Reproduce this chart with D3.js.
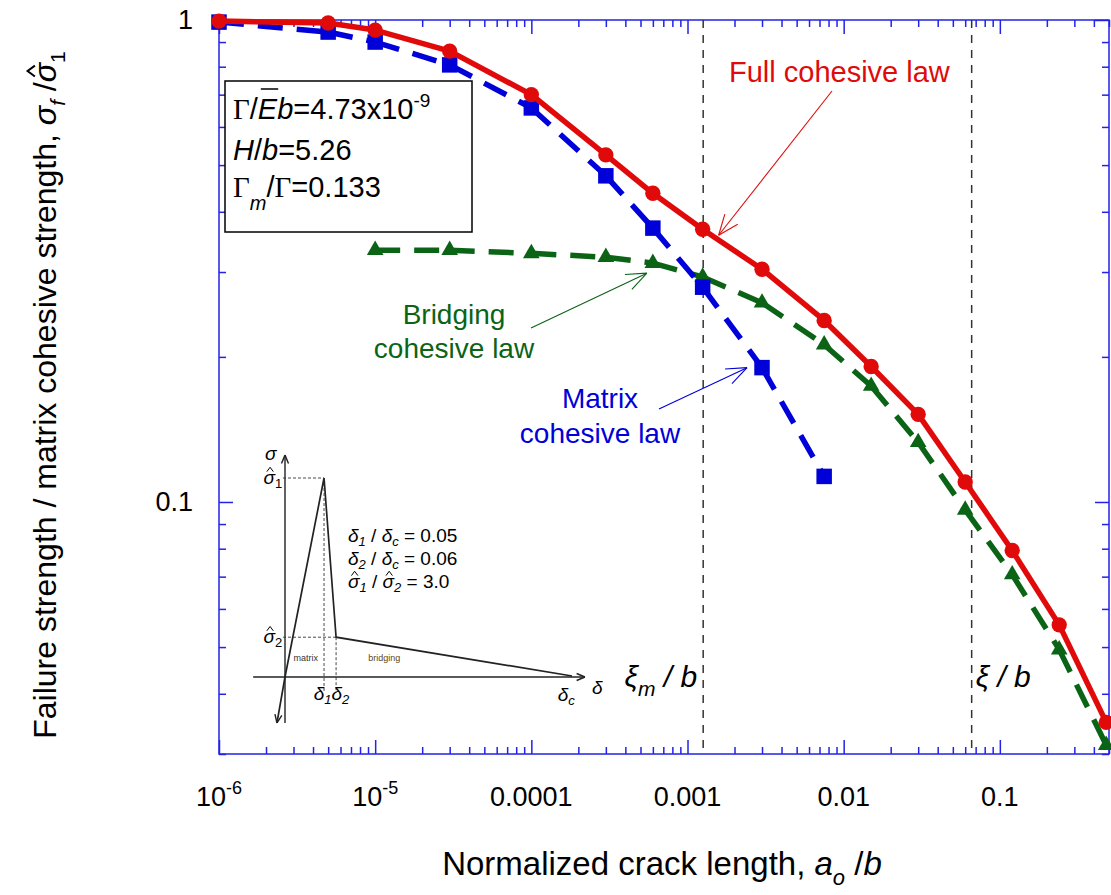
<!DOCTYPE html>
<html>
<head>
<meta charset="utf-8">
<script src="https://cdn.jsdelivr.net/npm/d3@7"></script>
<style>
  body { margin: 0; background: #fff; }
  text { font-family: "Liberation Sans", Arial, sans-serif; }
</style>
</head>
<body>
<svg id="chart" width="1111" height="895"></svg>
<script>
// crack lengths a0/b (shared by the three curves)
const crackLen = [1e-6, 5e-6, 1e-5, 3e-5, 1e-4, 3e-4, 6e-4, 0.00125, 0.003, 0.0075, 0.015, 0.03, 0.06, 0.12, 0.24, 0.48];
const fullStrength = [0.995, 0.986, 0.953, 0.862, 0.70, 0.525, 0.437, 0.368, 0.304, 0.238, 0.191, 0.152, 0.110, 0.0793, 0.0556, 0.0349];
const matrixLen = crackLen.slice(0, 10);
const matrixStrength = [0.99, 0.944, 0.90, 0.807, 0.657, 0.475, 0.370, 0.279, 0.190, 0.113];
const bridgingLen = crackLen.slice(2);
const bridgingStrength = [0.333, 0.333, 0.328, 0.322, 0.313, 0.293, 0.259, 0.212, 0.174, 0.133, 0.0963, 0.0707, 0.0494, 0.0313];

// characteristic lengths (vertical dashed lines)
const xiMatrix = 0.00126;
const xiFull = 0.066;

// tick values
const xMajor = [1e-6, 1e-5, 1e-4, 1e-3, 1e-2, 1e-1];
const xLabels = [["10", "-6"], ["10", "-5"], ["0.0001"], ["0.001"], ["0.01"], ["0.1"]];
const yMajor = [0.1, 1];
const yLabels = ["0.1", "1"];

// inset: schematic traction-separation law (delta/delta_c, sigma/sigma1)
const insetLaw = [[-0.028, -0.231], [0, 0], [0.136, 1], [0.178, 0.2], [1, 0.005]];

const svg = d3.select("#chart");
const L = 219, R = 1109, T = 20, B = 754;
const axisBlue = "#2222e8";
const red = "#e00a0a", blue = "#0000d8", green = "#0b6416";
const serif = '"Liberation Serif", "Times New Roman", serif';

const x = d3.scaleLog().domain([1e-6, 0.5]).range([L, R]);
const y = d3.scaleLog().domain([0.03, 1]).range([B, T]);

const xMinor = [];
for (let e = -6; e <= -1; e++) for (let m = 2; m <= 9; m++) {
  const v = m * Math.pow(10, e);
  if (v <= 0.5) xMinor.push(v);
}
const yMinor = [];
for (let e = -2; e <= -1; e++) for (let m = 2; m <= 9; m++) {
  const v = m * Math.pow(10, e);
  if (v >= 0.03 && v < 1) yMinor.push(v);
}

// axes with inward ticks on all four sides
function styleAxis(g) {
  g.select(".domain").remove();
  g.selectAll("line").attr("stroke", axisBlue).attr("stroke-width", 1.5);
  g.selectAll("text").remove();
}
[[xMajor, 14], [xMinor, 7]].forEach(([vals, len]) => {
  svg.append("g").attr("transform", `translate(0,${B})`)
    .call(d3.axisBottom(x).tickValues(vals).tickSizeInner(-len).tickSizeOuter(0)).call(styleAxis);
  svg.append("g").attr("transform", `translate(0,${T})`)
    .call(d3.axisTop(x).tickValues(vals).tickSizeInner(-len).tickSizeOuter(0)).call(styleAxis);
});
[[yMajor, 14], [yMinor, 7]].forEach(([vals, len]) => {
  svg.append("g").attr("transform", `translate(${L},0)`)
    .call(d3.axisLeft(y).tickValues(vals).tickSizeInner(-len).tickSizeOuter(0)).call(styleAxis);
  svg.append("g").attr("transform", `translate(${R},0)`)
    .call(d3.axisRight(y).tickValues(vals).tickSizeInner(-len).tickSizeOuter(0)).call(styleAxis);
});
svg.append("rect").attr("x", L).attr("y", T).attr("width", R - L).attr("height", B - T)
  .attr("fill", "none").attr("stroke", axisBlue).attr("stroke-width", 1.5);

// draws a small circumflex over the first glyph of a tspan
function hatOver(parent, tspan, sw) {
  const e = tspan.node().getExtentOfChar(0);
  const top = e.y + e.height * 0.22, w = e.width;
  parent.append("path")
    .attr("d", `M${e.x + w * 0.3},${top}L${e.x + w * 0.58},${top - w * 0.38}L${e.x + w * 0.86},${top}`)
    .attr("fill", "none").attr("stroke", "#000").attr("stroke-width", sw);
}

// tick labels
xMajor.forEach((v, i) => {
  const t = svg.append("text").attr("x", x(v)).attr("y", 806)
    .attr("text-anchor", "middle").attr("font-size", 27);
  t.append("tspan").text(xLabels[i][0]);
  if (xLabels[i][1]) t.append("tspan").attr("font-size", 18).attr("dy", -12).text(xLabels[i][1]);
});
yMajor.forEach((v, i) => {
  svg.append("text").attr("x", 193).attr("y", y(v) + 9)
    .attr("text-anchor", "end").attr("font-size", 27).text(yLabels[i]);
});

// axis titles
const xt = svg.append("text").attr("x", 662).attr("y", 875).attr("text-anchor", "middle").attr("font-size", 33);
xt.append("tspan").text("Normalized crack length, ");
xt.append("tspan").attr("font-style", "italic").text("a");
xt.append("tspan").attr("font-style", "italic").attr("font-size", 22).attr("dy", 10).text("o");
xt.append("tspan").attr("dy", -10).text(" /");
xt.append("tspan").attr("font-style", "italic").text("b");

const ytg = svg.append("g").attr("transform", "translate(56,395) rotate(-90)");
const yt = ytg.append("text").attr("text-anchor", "middle").attr("font-size", 32);
yt.append("tspan").text("Failure strength / matrix cohesive strength, ");
yt.append("tspan").attr("font-style", "italic").text("σ");
yt.append("tspan").attr("font-style", "italic").attr("font-size", 21).attr("dy", 9).text("f");
yt.append("tspan").attr("dy", -9).text(" /");
const ySig = yt.append("tspan").attr("font-style", "italic").text("σ");
yt.append("tspan").attr("font-size", 21).attr("dy", 9).text("1");
hatOver(ytg, ySig, 2);

// characteristic length lines
[xiMatrix, xiFull].forEach(v => {
  svg.append("line").attr("x1", x(v)).attr("x2", x(v)).attr("y1", T).attr("y2", B)
    .attr("stroke", "#333").attr("stroke-width", 1.5).attr("stroke-dasharray", "8,7");
});
const xm = svg.append("text").attr("x", x(xiMatrix) - 6).attr("y", 687)
  .attr("text-anchor", "end").attr("font-size", 30).attr("font-style", "italic");
xm.append("tspan").text("ξ");
xm.append("tspan").attr("font-size", 21).attr("dy", 9).text("m");
xm.append("tspan").attr("dy", -9).text(" / b");
svg.append("text").attr("x", x(xiFull) + 4).attr("y", 687)
  .attr("font-size", 30).attr("font-style", "italic").text("ξ / b");

// curves (dash restarts on each segment)
const line = d3.line();
function series(xs, ys, color, dash, marker) {
  const pts = xs.map((v, i) => [x(v), y(ys[i])]);
  const g = svg.append("g");
  g.selectAll("path.seg").data(d3.pairs(pts)).join("path").attr("class", "seg")
    .attr("d", line).attr("fill", "none").attr("stroke", color)
    .attr("stroke-width", 5.5).attr("stroke-dasharray", dash);
  g.selectAll("path.mk").data(pts).join("path").attr("class", "mk")
    .attr("transform", d => `translate(${d[0]},${d[1]})`)
    .attr("d", d3.symbol(marker.type, marker.size)).attr("fill", color);
}
series(bridgingLen, bridgingStrength, green, "25,14", { type: d3.symbolTriangle, size: 120 });
series(matrixLen, matrixStrength, blue, "25,14", { type: d3.symbolSquare, size: 240 });
series(crackLen, fullStrength, red, null, { type: d3.symbolCircle, size: 185 });

// annotations with open arrowheads
function arrow(x1, y1, x2, y2, color) {
  const g = svg.append("g").attr("stroke", color).attr("stroke-width", 1.1).attr("fill", "none");
  g.append("line").attr("x1", x1).attr("y1", y1).attr("x2", x2).attr("y2", y2);
  const a = Math.atan2(y1 - y2, x1 - x2);
  [-0.38, 0.38].forEach(da => {
    g.append("line").attr("x1", x2).attr("y1", y2)
      .attr("x2", x2 + 22 * Math.cos(a + da)).attr("y2", y2 + 22 * Math.sin(a + da));
  });
}
svg.append("text").attr("x", 729).attr("y", 82).attr("font-size", 29).attr("fill", red).text("Full cohesive law");
arrow(832, 91, x(0.00125) + 16, y(0.368) + 6, red);

[["Bridging", 324], ["cohesive law", 358]].forEach(([s, yy]) => {
  svg.append("text").attr("x", 454).attr("y", yy).attr("text-anchor", "middle")
    .attr("font-size", 28).attr("fill", green).text(s);
});
arrow(531, 328, x(6e-4) - 6, y(0.313) + 10, green);

[["Matrix", 408], ["cohesive law", 443]].forEach(([s, yy]) => {
  svg.append("text").attr("x", 600).attr("y", yy).attr("text-anchor", "middle")
    .attr("font-size", 28).attr("fill", blue).text(s);
});
arrow(659, 409, x(0.003) - 15, y(0.190), blue);

// parameter box
svg.append("rect").attr("x", 225).attr("y", 81).attr("width", 247).attr("height", 151)
  .attr("fill", "#fff").attr("stroke", "#000").attr("stroke-width", 1.5);
const b1 = svg.append("text").attr("x", 233).attr("y", 119).attr("font-size", 29);
b1.append("tspan").attr("font-family", serif).text("Γ");
b1.append("tspan").text("/");
b1.append("tspan").attr("font-style", "italic").text("Eb");
b1.append("tspan").text("=4.73x10");
b1.append("tspan").attr("font-size", 19).attr("dy", -12).text("-9");
const eBox = b1.node().getExtentOfChar(2);
svg.append("line").attr("x1", eBox.x + 3).attr("x2", eBox.x + eBox.width + 1)
  .attr("y1", 89).attr("y2", 89).attr("stroke", "#000").attr("stroke-width", 1.5);
const b2 = svg.append("text").attr("x", 233).attr("y", 160).attr("font-size", 29);
b2.append("tspan").attr("font-style", "italic").text("H");
b2.append("tspan").text("/");
b2.append("tspan").attr("font-style", "italic").text("b");
b2.append("tspan").text("=5.26");
const b3 = svg.append("text").attr("x", 233).attr("y", 197).attr("font-size", 29);
b3.append("tspan").attr("font-family", serif).text("Γ");
b3.append("tspan").attr("font-style", "italic").attr("font-size", 20).attr("dy", 13).text("m");
b3.append("tspan").attr("dy", -13).text("/");
b3.append("tspan").attr("font-family", serif).text("Γ");
b3.append("tspan").text("=0.133");

// inset sketch of the cohesive law
const ix = d3.scaleLinear().domain([0, 1]).range([285, 572]);
const iy = d3.scaleLinear().domain([0, 1]).range([677, 478]);
const inset = svg.append("g").attr("font-family", serif);
const headAt = (px, py, ang, g) => {
  [-0.4, 0.4].forEach(da => g.append("line").attr("x1", px).attr("y1", py)
    .attr("x2", px - 9 * Math.cos(ang + da)).attr("y2", py - 9 * Math.sin(ang + da)));
};
const ia = inset.append("g").attr("stroke", "#222").attr("stroke-width", 1.4).attr("fill", "none");
ia.append("line").attr("x1", ix(0)).attr("x2", ix(0)).attr("y1", iy(-0.231)).attr("y2", iy(1.115));
headAt(ix(0), iy(1.115), -Math.PI / 2, ia);
ia.append("line").attr("x1", ix(-0.111)).attr("x2", ix(1.045)).attr("y1", iy(0)).attr("y2", iy(0));
headAt(ix(1.045), iy(0), 0, ia);
ia.append("path").attr("d", d3.line().x(d => ix(d[0])).y(d => iy(d[1]))(insetLaw)).attr("stroke-width", 1.7);
const p0 = insetLaw[0], p1 = insetLaw[1];
headAt(ix(p0[0]), iy(p0[1]), Math.atan2(iy(p0[1]) - iy(p1[1]), ix(p0[0]) - ix(p1[0])), ia);
const dashed = inset.append("g").attr("stroke", "#333").attr("stroke-width", 0.9).attr("stroke-dasharray", "3,2");
[insetLaw[2], insetLaw[3]].forEach(p => {
  dashed.append("line").attr("x1", ix(-0.007)).attr("x2", ix(p[0])).attr("y1", iy(p[1])).attr("y2", iy(p[1]));
  dashed.append("line").attr("x1", ix(p[0])).attr("x2", ix(p[0])).attr("y1", iy(p[1])).attr("y2", iy(-0.08));
});
// parts: [text, italic, subscript?, hat?]
function insetText(px, py, parts, anchor) {
  const t = inset.append("text").attr("x", px).attr("y", py).attr("font-size", 19)
    .attr("font-family", serif).attr("text-anchor", anchor || "start");
  let lowered = false;
  const hats = [];
  parts.forEach(([s, it, sub, hat]) => {
    const ts = t.append("tspan").text(s);
    if (it) ts.attr("font-style", "italic");
    if (hat) hats.push(ts);
    if (sub) { ts.attr("font-size", 13); if (!lowered) ts.attr("dy", 4); lowered = true; }
    else if (lowered) { ts.attr("dy", -4); lowered = false; }
  });
  hats.forEach(ts => hatOver(inset, ts, 1));
}
insetText(ix(-0.03), iy(1.11) + 4, [["σ", 1]], "end");
insetText(ix(-0.01), iy(1) + 6, [["σ", 1, 0, 1], ["1", 0, 1]], "end");
insetText(ix(-0.01), iy(0.2) + 6, [["σ", 1, 0, 1], ["2", 0, 1]], "end");
insetText(ix(1.07), iy(0) + 17, [["δ", 1]]);
insetText(ix(0.1), 700, [["δ", 1], ["1", 1, 1], ["δ", 1], ["2", 1, 1]]);
insetText(ix(0.95), 701, [["δ", 1], ["c", 1, 1]]);
insetText(348, 542, [["δ", 1], ["1", 1, 1], [" / ", 0], ["δ", 1], ["c", 1, 1], [" = 0.05", 0]]);
insetText(348, 565, [["δ", 1], ["2", 1, 1], [" / ", 0], ["δ", 1], ["c", 1, 1], [" = 0.06", 0]]);
insetText(348, 588, [["σ", 1, 0, 1], ["1", 1, 1], [" / ", 0], ["σ", 1, 0, 1], ["2", 1, 1], [" = 3.0", 0]]);
inset.append("text").attr("x", ix(0.03)).attr("y", iy(0.08)).attr("font-size", 9)
  .attr("font-family", "Liberation Sans, Arial, sans-serif").attr("fill", "#333").text("matrix");
inset.append("text").attr("x", ix(0.29)).attr("y", iy(0.08)).attr("font-size", 9)
  .attr("font-family", "Liberation Sans, Arial, sans-serif").attr("fill", "#5a4722").text("bridging");
</script>
</body>
</html>
